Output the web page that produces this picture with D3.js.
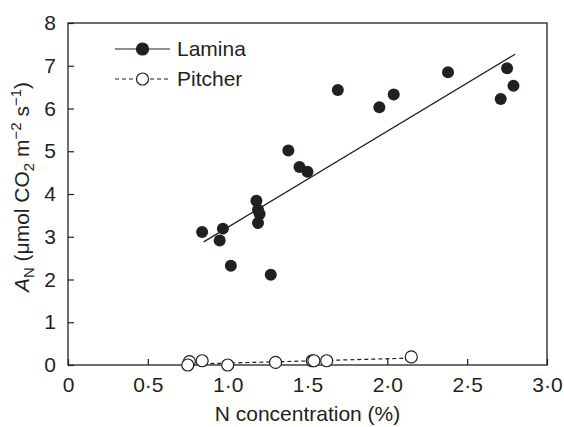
<!DOCTYPE html>
<html>
<head>
<meta charset="utf-8">
<script src="https://cdn.jsdelivr.net/npm/d3@7"></script>
<style>
  body { margin: 0; background: #fff; }
  text { font-family: 'Liberation Sans', Arial, sans-serif; fill: #231f20; }
</style>
</head>
<body>
<script>
// lamina: N concentration (%) vs A_N
const laminaN = [0.84, 0.95, 0.97, 1.02, 1.18, 1.19, 1.2, 1.19, 1.27, 1.38, 1.45, 1.5, 1.69, 1.95, 2.04, 2.38, 2.71, 2.75, 2.79]
const laminaA = [3.11, 2.91, 3.19, 2.32, 3.84, 3.63, 3.53, 3.32, 2.11, 5.02, 4.63, 4.52, 6.43, 6.03, 6.33, 6.85, 6.22, 6.94, 6.53]
// pitcher
const pitcherN = [0.76, 0.75, 0.84, 1.0, 1.3, 1.53, 1.54, 1.62, 2.15]
const pitcherA = [0.08, 0.0, 0.1, 0.0, 0.06, 0.1, 0.1, 0.1, 0.19]
// fitted lines (end points)
const laminaFitN = [0.85, 2.8]
const laminaFitA = [2.88, 7.27]
const pitcherFitN = [0.76, 2.14]
const pitcherFitA = [0.02, 0.16]

const xTicks = [0, 0.5, 1.0, 1.5, 2.0, 2.5, 3.0]
const yTicks = [0, 1, 2, 3, 4, 5, 6, 7, 8]

const width = 564
const height = 427
const margin = { left: 68, top: 23, right: 17, bottom: 62 }
const innerWidth = width - margin.left - margin.right
const innerHeight = height - margin.top - margin.bottom
const ink = '#231f20'
const fontSize = '21px'
const subSize = '15px'

const svg = d3.select('body')
  .append('svg')
  .attr('width', width)
  .attr('height', height)

const g = svg.append('g')
  .attr('transform', `translate(${margin.left},${margin.top})`)

const xScale = d3.scaleLinear().domain([0, 3]).range([0, innerWidth])
const yScale = d3.scaleLinear().domain([0, 8]).range([innerHeight, 0])

const fmtX = d => d3.format('.1f')(d).replace('.', '·')

// frame
g.append('rect')
  .attr('width', innerWidth)
  .attr('height', innerHeight)
  .style('fill', 'none')
  .style('stroke', ink)
  .style('stroke-width', 1.3)

const xAxis = d3.axisBottom(xScale)
  .tickValues(xTicks)
  .tickFormat(d => d === 0 ? '0' : fmtX(d))
  .tickSizeInner(-6)
  .tickSizeOuter(0)
  .tickPadding(12)

const yAxis = d3.axisLeft(yScale)
  .tickValues(yTicks)
  .tickFormat(d3.format('d'))
  .tickSizeInner(-6)
  .tickSizeOuter(0)
  .tickPadding(12)

const xAxisG = g.append('g')
  .attr('transform', `translate(0,${innerHeight})`)
  .call(xAxis)
const yAxisG = g.append('g').call(yAxis)

;[xAxisG, yAxisG].forEach(a => {
  a.select('.domain').remove()
  a.selectAll('line').style('stroke', ink).style('stroke-width', 1.2)
  a.selectAll('text')
    .style('font-size', fontSize)
    .style('font-family', "'Liberation Sans', Arial, sans-serif")
    .style('fill', ink)
})

// fitted lines
const line = d3.line().x(d => xScale(d[0])).y(d => yScale(d[1]))

g.append('path')
  .datum(d3.zip(laminaFitN, laminaFitA))
  .attr('d', line)
  .style('fill', 'none')
  .style('stroke', ink)
  .style('stroke-width', 1.3)

g.append('path')
  .datum(d3.zip(pitcherFitN, pitcherFitA))
  .attr('d', line)
  .style('fill', 'none')
  .style('stroke', ink)
  .style('stroke-width', 1.2)
  .style('stroke-dasharray', '4,3')

// points
g.selectAll('.pitcher')
  .data(d3.zip(pitcherN, pitcherA))
  .enter()
  .append('circle')
  .attr('class', 'pitcher')
  .attr('cx', d => xScale(d[0]))
  .attr('cy', d => yScale(d[1]))
  .attr('r', 6)
  .style('fill', '#fff')
  .style('stroke', ink)
  .style('stroke-width', 1.2)

g.selectAll('.lamina')
  .data(d3.zip(laminaN, laminaA))
  .enter()
  .append('circle')
  .attr('class', 'lamina')
  .attr('cx', d => xScale(d[0]))
  .attr('cy', d => yScale(d[1]))
  .attr('r', 6)
  .style('fill', ink)

// legend
const legend = svg.append('g')
const legendItems = [
  { label: 'Lamina', y: 49, filled: true },
  { label: 'Pitcher', y: 79, filled: false }
]
legendItems.forEach(item => {
  legend.append('line')
    .attr('x1', 115).attr('x2', 170)
    .attr('y1', item.y).attr('y2', item.y)
    .style('stroke', ink)
    .style('stroke-width', 1.2)
    .style('stroke-dasharray', item.filled ? null : '4,3')
  legend.append('circle')
    .attr('cx', 142.5).attr('cy', item.y).attr('r', 6)
    .style('fill', item.filled ? ink : '#fff')
    .style('stroke', ink)
    .style('stroke-width', 1.2)
  legend.append('text')
    .attr('x', 177).attr('y', item.y)
    .attr('dy', '0.35em')
    .style('font-size', fontSize)
    .text(item.label)
})

// x axis label
svg.append('text')
  .attr('x', margin.left + innerWidth / 2)
  .attr('y', 421)
  .attr('text-anchor', 'middle')
  .style('font-size', fontSize)
  .text('N concentration (%)')

// y axis label
const yLabel = svg.append('text')
  .attr('transform', 'translate(29,187) rotate(-90)')
  .attr('text-anchor', 'middle')
  .style('font-size', fontSize)
yLabel.append('tspan').style('font-style', 'italic').text('A')
yLabel.append('tspan').attr('dy', 5).style('font-size', subSize).text('N')
yLabel.append('tspan').attr('dy', -5).text(' (μmol CO')
yLabel.append('tspan').attr('dy', 5).style('font-size', subSize).text('2')
yLabel.append('tspan').attr('dy', -5).text(' m')
yLabel.append('tspan').attr('dy', -8).style('font-size', subSize).text('−2')
yLabel.append('tspan').attr('dy', 8).text(' s')
yLabel.append('tspan').attr('dy', -8).style('font-size', subSize).text('−1')
yLabel.append('tspan').attr('dy', 8).text(')')
</script>
</body>
</html>
